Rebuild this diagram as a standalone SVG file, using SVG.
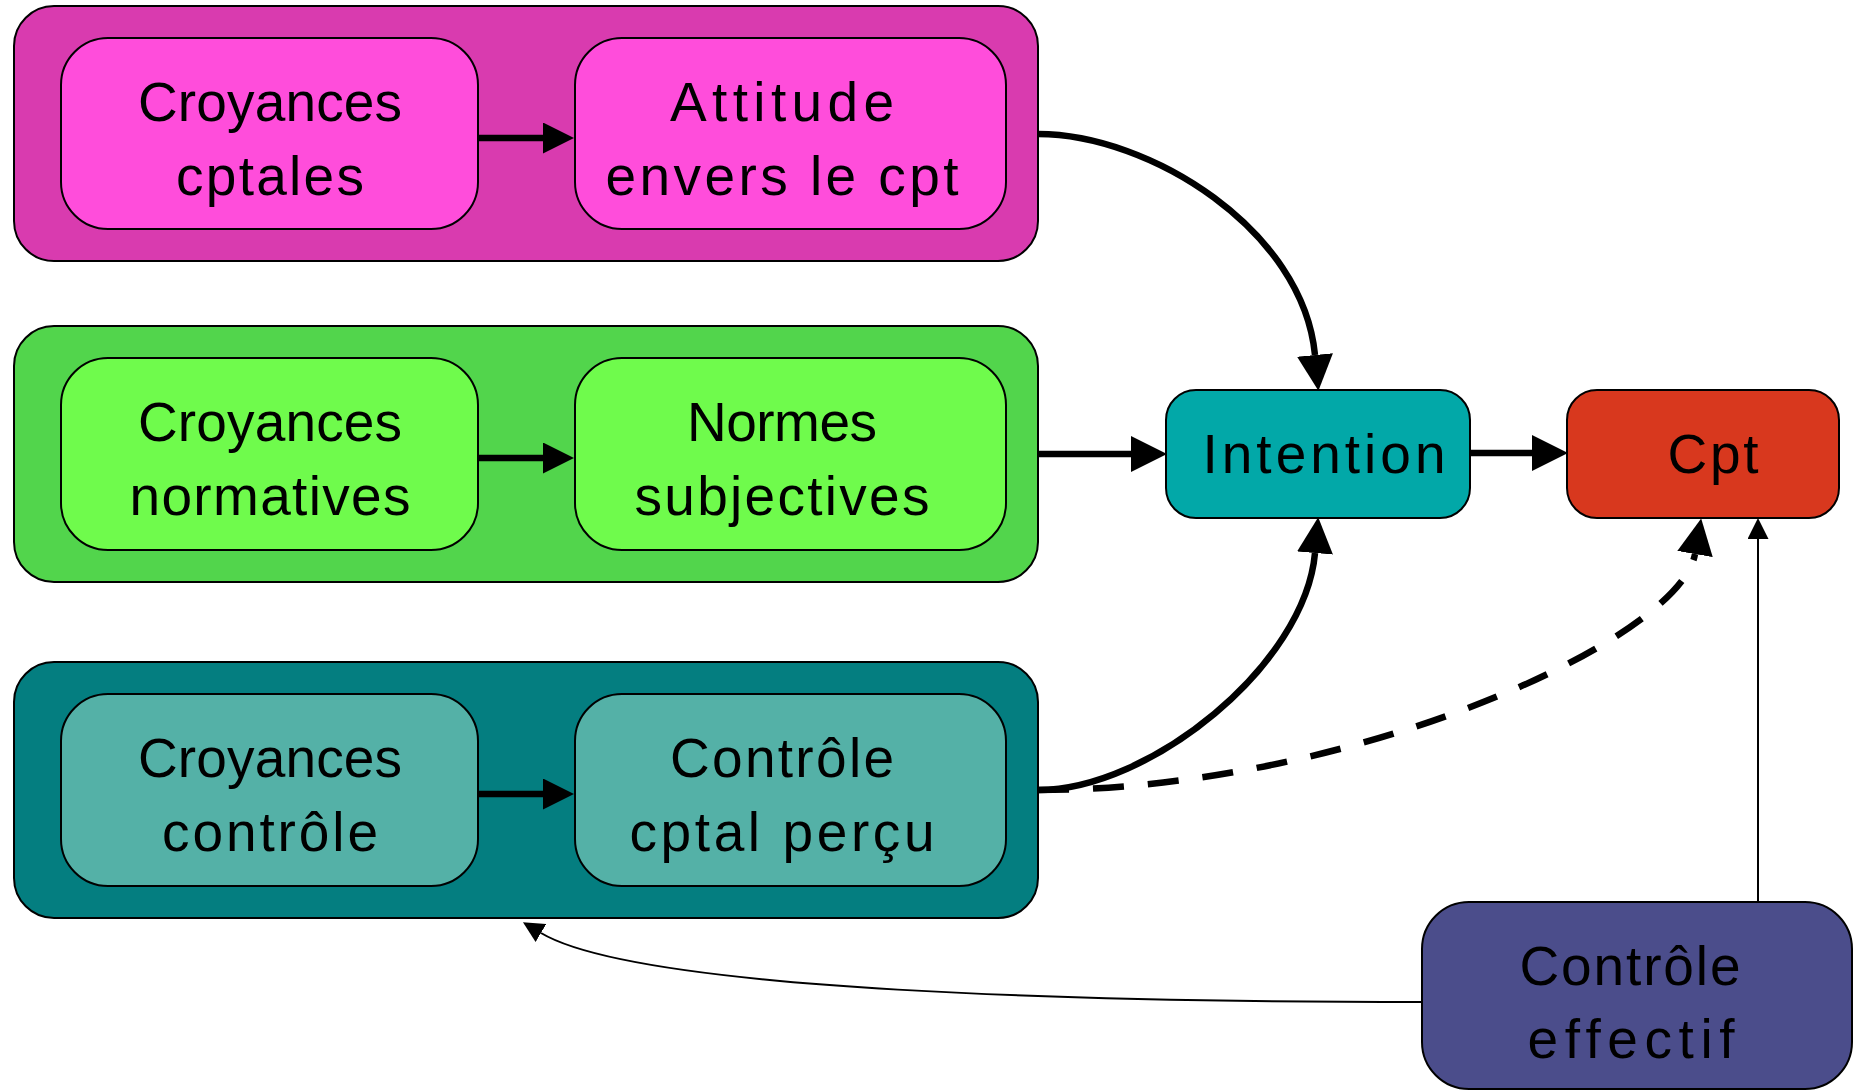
<svg xmlns="http://www.w3.org/2000/svg" width="1854" height="1090" viewBox="0 0 1854 1090">
  <style>
    .box { stroke: #000; stroke-width: 2; }
    .lbl { font-family: "Liberation Sans", Arial, sans-serif; font-size: 55px; fill: #000; text-anchor: middle; }
    .thick { fill: none; stroke: #000; stroke-width: 6.5; }
    .thin { fill: none; stroke: #000; stroke-width: 2; }
    .dash { fill: none; stroke: #000; stroke-width: 6.5; stroke-dasharray: 31 24; }
  </style>
  <defs>
    <marker id="head-l" markerUnits="userSpaceOnUse" markerWidth="36" markerHeight="36" viewBox="0 0 35 35" refX="0" refY="17.5" orient="auto">
      <path d="M0,0 L35,17.5 L0,35 Z" fill="#000"/>
    </marker>
    <marker id="head-m" markerUnits="userSpaceOnUse" markerWidth="31" markerHeight="31" viewBox="0 0 30 30" refX="0" refY="15" orient="auto">
      <path d="M0,0 L30,15 L0,30 Z" fill="#000"/>
    </marker>
    <marker id="head-s" markerUnits="userSpaceOnUse" markerWidth="21" markerHeight="21" viewBox="0 0 20 20" refX="0" refY="10" orient="auto">
      <path d="M0,0 L20,10 L0,20 Z" fill="#000"/>
    </marker>
  </defs>

  <!-- Attitude block -->
  <g id="grp-attitude">
    <rect class="box" x="14" y="6" width="1024" height="255" rx="40" fill="#D93BAF"/>
    <g id="croyances-cptales">
      <rect class="box" x="61" y="38" width="417" height="191" rx="47" fill="#FF4DDB"/>
      <text class="lbl" x="270" y="121" textLength="264" lengthAdjust="spacing">Croyances</text>
      <text class="lbl" x="270" y="195" textLength="188" lengthAdjust="spacing">cptales</text>
    </g>
    <g id="attitude">
      <rect class="box" x="575" y="38" width="431" height="191" rx="47" fill="#FF4DDB"/>
      <text class="lbl" x="782" y="121" textLength="224" lengthAdjust="spacing">Attitude</text>
      <text class="lbl" x="782" y="195" textLength="353" lengthAdjust="spacing">envers le cpt</text>
    </g>
  </g>

  <!-- Subjective norms block -->
  <g id="grp-normes">
    <rect class="box" x="14" y="326" width="1024" height="256" rx="40" fill="#52D54C"/>
    <g id="croyances-normatives">
      <rect class="box" x="61" y="358" width="417" height="192" rx="47" fill="#6FFB4C"/>
      <text class="lbl" x="270" y="441" textLength="264" lengthAdjust="spacing">Croyances</text>
      <text class="lbl" x="270" y="515" textLength="281" lengthAdjust="spacing">normatives</text>
    </g>
    <g id="normes-subjectives">
      <rect class="box" x="575" y="358" width="431" height="192" rx="47" fill="#6FFB4C"/>
      <text class="lbl" x="782" y="441" textLength="190" lengthAdjust="spacing">Normes</text>
      <text class="lbl" x="782" y="515" textLength="295" lengthAdjust="spacing">subjectives</text>
    </g>
  </g>

  <!-- Perceived control block -->
  <g id="grp-controle">
    <rect class="box" x="14" y="662" width="1024" height="256" rx="40" fill="#047E80"/>
    <g id="croyances-controle">
      <rect class="box" x="61" y="694" width="417" height="192" rx="47" fill="#54B1A7"/>
      <text class="lbl" x="270" y="777" textLength="264" lengthAdjust="spacing">Croyances</text>
      <text class="lbl" x="270" y="851" textLength="216" lengthAdjust="spacing">contrôle</text>
    </g>
    <g id="controle-percu">
      <rect class="box" x="575" y="694" width="431" height="192" rx="47" fill="#54B1A7"/>
      <text class="lbl" x="782" y="777" textLength="224" lengthAdjust="spacing">Contrôle</text>
      <text class="lbl" x="782" y="851" textLength="305" lengthAdjust="spacing">cptal perçu</text>
    </g>
  </g>

  <g id="intention">
    <rect class="box" x="1166" y="390" width="304" height="128" rx="30" fill="#02A8A8"/>
    <text class="lbl" x="1324" y="473" textLength="243" lengthAdjust="spacing">Intention</text>
  </g>

  <g id="cpt">
    <rect class="box" x="1567" y="390" width="272" height="128" rx="30" fill="#D8381E"/>
    <text class="lbl" x="1713" y="473" textLength="91" lengthAdjust="spacing">Cpt</text>
  </g>

  <g id="controle-effectif">
    <rect class="box" x="1422" y="902" width="430" height="187" rx="47" fill="#4B4D8B"/>
    <text class="lbl" x="1630" y="985" textLength="221" lengthAdjust="spacing">Contrôle</text>
    <text class="lbl" x="1631" y="1058" textLength="207" lengthAdjust="spacing">effectif</text>
  </g>

  <g id="connectors">
    <!-- links inside the blocks -->
    <path class="thick" d="M478,138 L543,138" marker-end="url(#head-m)"/>
    <path class="thick" d="M478,458 L543,458" marker-end="url(#head-m)"/>
    <path class="thick" d="M478,794 L543,794" marker-end="url(#head-m)"/>
    <!-- blocks to intention -->
    <path class="thick" d="M1038,134 C1150,134 1303,230 1315,355" marker-end="url(#head-l)"/>
    <path class="thick" d="M1038,454 L1131,454" marker-end="url(#head-l)"/>
    <path class="thick" d="M1038,790 C1150,790 1305,665 1315,553" marker-end="url(#head-l)"/>
    <!-- intention to behaviour -->
    <path class="thick" d="M1470,453 L1532,453" marker-end="url(#head-l)"/>
    <!-- perceived control straight to behaviour -->
    <path class="dash" d="M1038,790 C1350,790 1680,640 1695,554" marker-end="url(#head-l)"/>
    <!-- actual control -->
    <path class="thin" d="M1758,902 L1758,539" marker-end="url(#head-s)"/>
    <path class="thin" d="M1422,1002 C1100,1002 640,992 541,933" marker-end="url(#head-s)"/>
  </g>
</svg>
